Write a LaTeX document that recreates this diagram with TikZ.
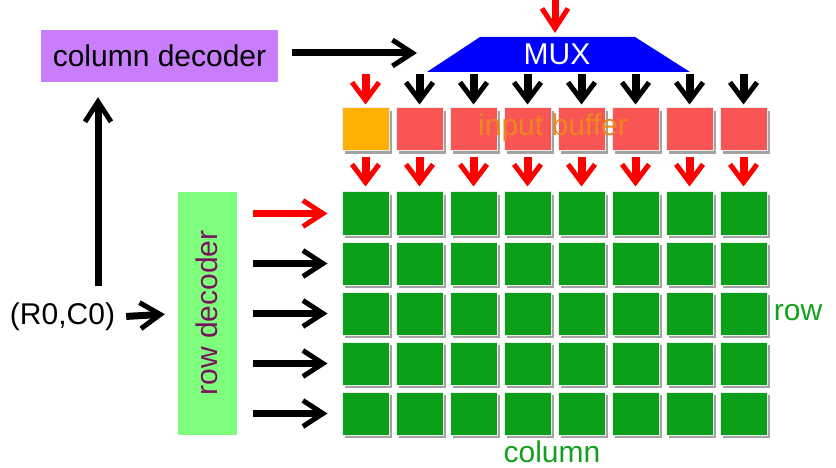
\documentclass[tikz,border=0pt]{standalone}
\usepackage{fontspec}
\setmainfont{Liberation Sans}
\usetikzlibrary{arrows.meta,positioning,shadows}

\definecolor{cellgreen}{RGB}{10,160,25}
\definecolor{bufred}{RGB}{250,85,85}
\definecolor{bufyellow}{RGB}{255,176,0}
\definecolor{decpurple}{RGB}{200,125,250}
\definecolor{decgreen}{RGB}{125,255,125}
\definecolor{muxblue}{RGB}{0,0,255}
\definecolor{txtpurple}{RGB}{120,20,90}
\definecolor{txtgreen}{RGB}{20,160,30}
\definecolor{txtorange}{RGB}{235,135,30}

\tikzset{
  cell/.style={draw=white!85!gray, line width=1pt, minimum width=47pt, minimum height=43pt, inner sep=0pt,
    drop shadow={shadow xshift=3pt, shadow yshift=-3pt, fill=black!60, opacity=.6}},
  bigarr/.style={line width=7pt, -{Straight Barb[length=20pt,width=26pt,line width=5pt]}},
  smallarr/.style={line width=8pt, -{Straight Barb[length=18pt,width=27pt,line width=5pt]}},
  lbl/.style={font=\fontsize{30}{36}\selectfont, inner sep=1pt}
}

\begin{document}
\begin{tikzpicture}[x=1pt, y=-1pt]
\useasboundingbox (0,0) rectangle (836,468);

% decoders and address
\node[lbl, fill=decpurple, minimum width=237pt, minimum height=52pt, inner sep=0pt] (coldec) at (159.5,56) {column decoder};
\node[fill=decgreen, minimum width=59pt, minimum height=243pt, inner sep=0pt] (rowdec) at (207.5,313.5) {};
\node[lbl, rotate=90, text=txtpurple] (rowdectxt) at (207,313) {row decoder};
\node[lbl] (addr) at (62.5,317) {(R0,C0)};

% memory array
\foreach \c in {1,...,8} {
  \foreach \r in {1,...,5}
    \node[cell, fill=cellgreen] (g\r-\c) at ({365.5+54*(\c-1)},{213.5+50*(\r-1)}) {};
}

% input buffer
\foreach \c/\col in {1/bufyellow,2/bufred,3/bufred,4/bufred,5/bufred,6/bufred,7/bufred,8/bufred}
  \node[cell, fill=\col] (b\c) at ({365.5+54*(\c-1)},129.5) {};
\node[lbl, text=txtorange] (buftxt) at (553,128) {input buffer};

% MUX
\fill[muxblue] (427,72) -- (480,37) -- (635,37) -- (690,72) -- cycle;
\node[lbl, text=white] (mux) at (557,54) {MUX};
\coordinate (muxtop) at (555,37);
\coordinate (muxin) at (417,53);

% select lines
\draw[bigarr, red, shorten >=4pt] ([yshift=37pt]muxtop) -- (muxtop);
\draw[bigarr, shorten <=14pt] (coldec.east |- muxin) -- (muxin);
\draw[bigarr, shorten <=16pt, shorten >=15pt] ([xshift=35.5pt]addr.north) -- ([xshift=35.5pt]addr.north |- coldec.south);
\draw[bigarr, shorten <=10pt, shorten >=13pt] (addr.east) -- (rowdec.west);
\foreach \r/\col in {1/red,2/black,3/black,4/black,5/black}
  \draw[bigarr, \col, shorten <=16pt, shorten >=14pt] (rowdec.east |- g\r-1.west) -- (g\r-1.west);

% data lines
\foreach \c/\col in {1/red,2/black,3/black,4/black,5/black,6/black,7/black,8/black}
  \draw[smallarr, \col] ([yshift=33pt]b\c.north) -- ([yshift=3pt]b\c.north);
\foreach \c in {1,...,8}
  \draw[smallarr, red, shorten <=6pt, shorten >=5pt] (b\c.south) -- (g1-\c.north);

% axis labels
\node[lbl, text=txtgreen] (rowlbl) at (798,313) {row};
\node[lbl, text=txtgreen] (collbl) at (552,452) {column};

\end{tikzpicture}
\end{document}
